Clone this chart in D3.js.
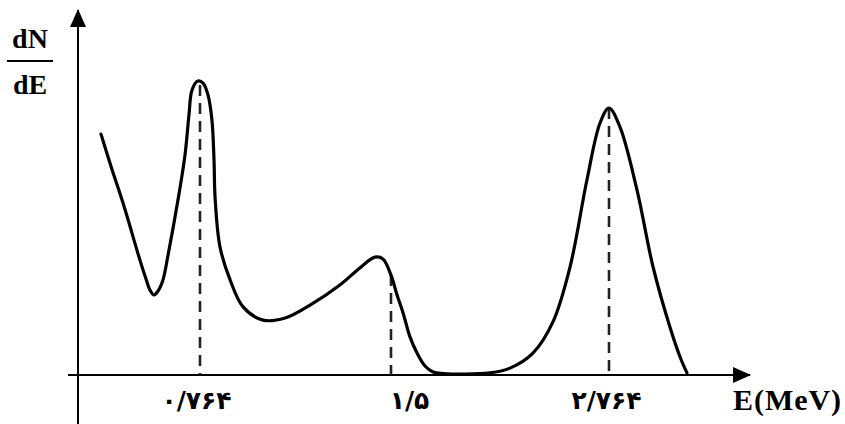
<!DOCTYPE html>
<html>
<head>
<meta charset="utf-8">
<script src="https://cdn.jsdelivr.net/npm/d3@7"></script>
<style>
  body { margin: 0; background: #fff; }
  svg { display: block; }
</style>
</head>
<body>
<div id="chart"></div>
<script>
// energy (MeV) and dN/dE (arbitrary units)
var energy = [0.144, 0.213, 0.282, 0.388, 0.426, 0.451, 0.476, 0.501, 0.532, 0.564, 0.626, 0.670, 0.695, 0.714, 0.751,
    0.776, 0.795, 0.810, 0.818, 0.822, 0.841, 0.880, 0.930, 1.007, 1.092, 1.188, 1.303, 1.380, 1.438,
    1.469, 1.500, 1.535, 1.570, 1.610, 1.651, 1.697, 1.744, 1.801, 2.074, 2.190, 2.323, 2.439, 2.538, 2.636,
    2.712, 2.764, 2.821, 2.910, 2.994, 3.082, 3.135, 3.171];
var counts = [80.3, 68.5, 57.3, 38.3, 32, 28.3, 26.7, 28, 31.7, 40, 58.3, 73.3, 86.7, 95, 98,
    97.3, 93.3, 85, 71.7, 59.3, 42.7, 31.7, 22.7, 18.3, 19, 23.3, 30, 35.7, 39.3,
    38.7, 33.3, 26.7, 20.7, 12.7, 7.3, 3, 1, 0.5, 0.7, 2.3, 7.3, 17.7, 36, 65,
    84, 89, 82.7, 61.7, 36, 16, 6, 0.7];

var tick_values = [0.764, 1.5, 2.764];
var tick_labels = ['۰/۷۶۴', '۱/۵', '۲/۷۶۴'];
var tick_heights = [96.7, 33.3, 89];

var chart_width = 845;
var chart_height = 424;

var svg = d3.select('#chart')
    .append('svg')
    .attr('width', chart_width)
    .attr('height', chart_height);

// the sketch is not to scale, so the energy axis is piecewise linear
var x_scale = d3.scaleLinear()
    .domain([0, 0.764, 1.5, 2.764, 3.5])
    .range([78, 200, 391, 609, 750]);

var y_scale = d3.scaleLinear()
    .domain([0, 100])
    .range([375, 75]);

var defs = svg.append('defs');
defs.append('marker')
    .attr('id', 'arrow')
    .attr('viewBox', '0 0 18 16')
    .attr('refX', 17)
    .attr('refY', 8)
    .attr('markerWidth', 18)
    .attr('markerHeight', 16)
    .attr('markerUnits', 'userSpaceOnUse')
    .attr('orient', 'auto')
    .append('path')
    .attr('d', 'M0,0 L18,8 L0,16 Z')
    .attr('fill', '#000');

// axes drawn as arrows
svg.append('line')
    .attr('x1', x_scale(0) - 10)
    .attr('x2', x_scale(3.5))
    .attr('y1', y_scale(0))
    .attr('y2', y_scale(0))
    .attr('stroke', '#000')
    .attr('stroke-width', 2)
    .attr('marker-end', 'url(#arrow)');

svg.append('line')
    .attr('x1', x_scale(0))
    .attr('x2', x_scale(0))
    .attr('y1', chart_height)
    .attr('y2', 10)
    .attr('stroke', '#000')
    .attr('stroke-width', 2)
    .attr('marker-end', 'url(#arrow)');

// tick labels through the axis generator
var label_dx = [-4, 18, -3];
var x_axis = d3.axisBottom(x_scale)
    .tickValues(tick_values)
    .tickSize(0)
    .tickPadding(16)
    .tickFormat(function (d, i) { return tick_labels[i]; });

var gx = svg.append('g')
    .attr('transform', 'translate(0,' + y_scale(0) + ')')
    .call(x_axis);
gx.select('.domain').remove();
gx.selectAll('.tick text')
    .attr('dx', function (d, i) { return label_dx[i]; })
    .style('font-family', '"DejaVu Sans", sans-serif')
    .style('font-weight', 'bold')
    .style('font-size', '25px')
    .attr('fill', '#000');

// dashed drop lines
svg.append('g')
    .selectAll('line')
    .data(tick_values)
    .enter()
    .append('line')
    .attr('x1', function (d) { return x_scale(d); })
    .attr('x2', function (d) { return x_scale(d); })
    .attr('y1', function (d, i) { return y_scale(tick_heights[i]); })
    .attr('y2', y_scale(0))
    .attr('stroke', '#222')
    .attr('stroke-width', 2.6)
    .attr('stroke-dasharray', '11,7');

// spectrum curve
var points = energy.map(function (e, i) { return [e, counts[i]]; });
var line = d3.line()
    .x(function (d) { return x_scale(d[0]); })
    .y(function (d) { return y_scale(d[1]); })
    .curve(d3.curveCatmullRom.alpha(0.5));

svg.append('path')
    .datum(points)
    .attr('d', line)
    .attr('fill', 'none')
    .attr('stroke', '#000')
    .attr('stroke-width', 3.2)
    .attr('stroke-linejoin', 'round')
    .attr('stroke-linecap', 'round');

// axis titles
var serif = '"Liberation Serif", "Times New Roman", serif';
svg.append('text')
    .attr('x', 30)
    .attr('y', 48)
    .attr('text-anchor', 'middle')
    .style('font-family', serif)
    .style('font-weight', 'bold')
    .style('font-size', '28px')
    .text('dN');
svg.append('line')
    .attr('x1', 7)
    .attr('x2', 53)
    .attr('y1', 61)
    .attr('y2', 61)
    .attr('stroke', '#000')
    .attr('stroke-width', 2);
svg.append('text')
    .attr('x', 30)
    .attr('y', 94)
    .attr('text-anchor', 'middle')
    .style('font-family', serif)
    .style('font-weight', 'bold')
    .style('font-size', '28px')
    .text('dE');

svg.append('text')
    .attr('x', 733)
    .attr('y', 410)
    .attr('textLength', 108)
    .attr('lengthAdjust', 'spacing')
    .style('font-family', serif)
    .style('font-weight', 'bold')
    .style('font-size', '30px')
    .text('E(MeV)');
</script>
</body>
</html>
